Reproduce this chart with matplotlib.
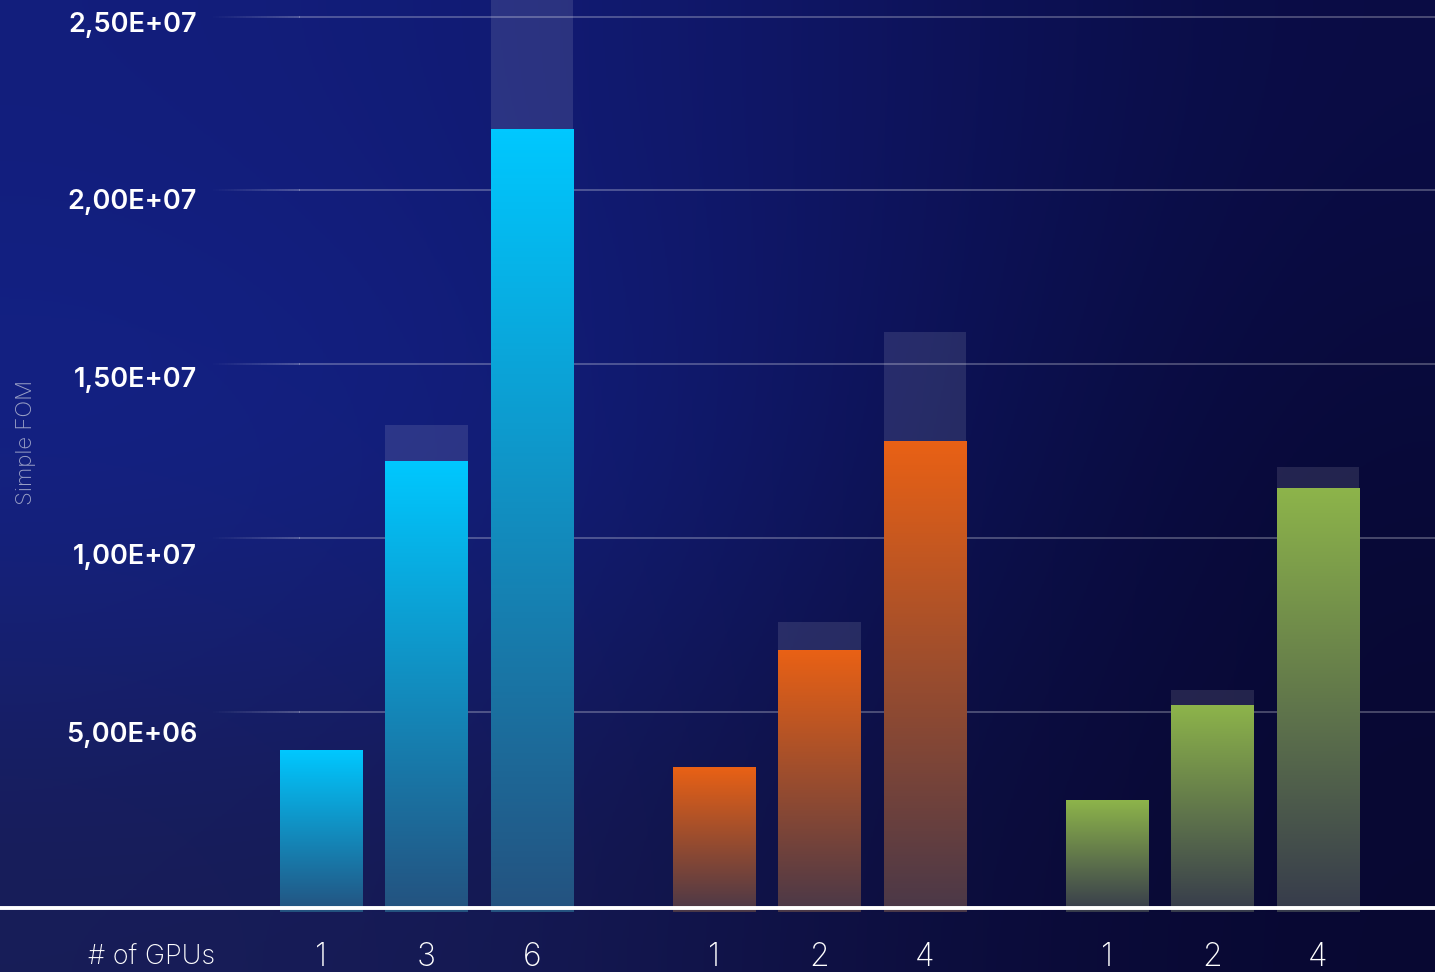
import numpy as np
import matplotlib.pyplot as plt
from matplotlib.colors import LinearSegmentedColormap
from matplotlib.collections import LineCollection
from matplotlib.transforms import ScaledTranslation

# GPU counts per group and measured figure of merit
gpu_counts = [["1", "3", "6"], ["1", "2", "4"], ["1", "2", "4"]]
fom_blue = [4.56e6, 12.70e6, 22.03e6]
fom_orange = [4.08e6, 7.38e6, 13.24e6]
fom_green = [3.13e6, 5.83e6, 11.92e6]

# linear-scaling targets shown as faint bars behind the measured ones
ideal_blue = [None, 13.72e6, 27.4e6]
ideal_orange = [None, 8.17e6, 16.34e6]
ideal_green = [None, 6.25e6, 12.54e6]

y_ticks = [5e6, 1e7, 1.5e7, 2e7, 2.5e7]
y_tick_labels = ["5,00E+06", "1,00E+07", "1,50E+07", "2,00E+07", "2,50E+07"]

W, H = 1435, 972
fig = plt.figure(figsize=(W / 100, H / 100), dpi=100)

# background: dark navy, brighter toward the left
bg = fig.add_axes([0, 0, 1, 1])
corners = np.array([
    [[0x12, 0x1e, 0x7c], [0x12, 0x1b, 0x74], [0x0e, 0x14, 0x5e], [0x0a, 0x0c, 0x44]],
    [[0x14, 0x23, 0x8a], [0x12, 0x1f, 0x80], [0x0d, 0x13, 0x58], [0x08, 0x09, 0x36]],
    [[0x18, 0x1d, 0x56], [0x15, 0x19, 0x52], [0x0d, 0x0e, 0x3e], [0x08, 0x08, 0x32]],
]) / 255
bg.imshow(corners, aspect="auto", interpolation="bicubic", extent=[0, 1, 0, 1])
bg.set_xlim(0, 1)
bg.set_ylim(0, 1)
bg.axis("off")

ax = fig.add_axes([0, 0, 1, 1])
ax.patch.set_alpha(0)
ax.axis("off")

px_x = 105.5          # pixels per bar slot
x_zero = 321          # pixel position of the first bar
px_y = 35.5e-6        # pixels per unit of FOM
y_zero = 912          # pixel row of FOM = 0
xlim = (-x_zero / px_x, (W - x_zero) / px_x)
ylim = (-(H - y_zero) / px_y, y_zero / px_y)

group_starts = [0, 3.725, 7.45]
bar_w = 0.78

series = [
    (fom_blue, ideal_blue, "#00c8ff", "#24527f"),
    (fom_orange, ideal_orange, "#e96115", "#4a3848"),
    (fom_green, ideal_green, "#8db44a", "#363b4c"),
]

grad = np.linspace(0, 1, 256).reshape(-1, 1)
for g, (vals, ideals, top_c, bot_c) in enumerate(series):
    cmap = LinearSegmentedColormap.from_list(f"g{g}", [bot_c, top_c])
    for i, (v, ideal) in enumerate(zip(vals, ideals)):
        xc = group_starts[g] + i
        if ideal is not None:
            ax.bar(xc, ideal, width=bar_w, color="white", alpha=0.11,
                   linewidth=0, zorder=1)
        ax.imshow(grad, extent=[xc - bar_w / 2, xc + bar_w / 2, 0, v],
                  origin="lower", aspect="auto", cmap=cmap, zorder=3)
        ax.text(xc, 15 / H, gpu_counts[g][i], transform=ax.get_xaxis_transform(),
                ha="center", va="center", fontsize=23, color="white",
                family="Inter", fontweight="light")

# horizontal guide lines fading in from the left
grid_levels = [5.63e6, 10.54e6, 15.44e6, 20.34e6, 25.21e6]
fade_x = np.linspace(210, 300, 31)
for lvl in grid_levels:
    xs = (fade_x - x_zero) / px_x
    segs = [[(xs[k], lvl), (xs[k + 1], lvl)] for k in range(len(xs) - 1)]
    alphas = np.linspace(0.0, 0.3, len(segs))
    cols = [(1, 1, 1, a) for a in alphas]
    ax.add_collection(LineCollection(segs, colors=cols, linewidths=1.2, zorder=2))
    ax.plot([xs[-1], xlim[1]], [lvl, lvl], color="white", alpha=0.3, lw=1.2, zorder=2)

# baseline
base = ax.axhline(0, color="white", lw=2.8, zorder=4)
base.set_transform(base.get_transform() + ScaledTranslation(0, 4 / 100, fig.dpi_scale_trans))

for t, lab in zip(y_ticks, y_tick_labels):
    ax.text(197 / W, t, lab, transform=ax.get_yaxis_transform(), ha="right",
            va="center", fontsize=19.5, color="white", family="Inter",
            fontweight="semibold")

ax.text(152 / W, 15 / H, "# of GPUs", transform=ax.transAxes, ha="center",
        va="center", fontsize=19.5, color="white", family="Inter", fontweight="light")
fig.text(26 / W, 1 - 442 / H, "Simple FOM", rotation=90, ha="center", va="center",
         fontsize=16, color="#9aa0c6", family="Inter", fontweight="light")

ax.set_xlim(*xlim)
ax.set_ylim(*ylim)

fig.savefig("out.png", dpi=100)
